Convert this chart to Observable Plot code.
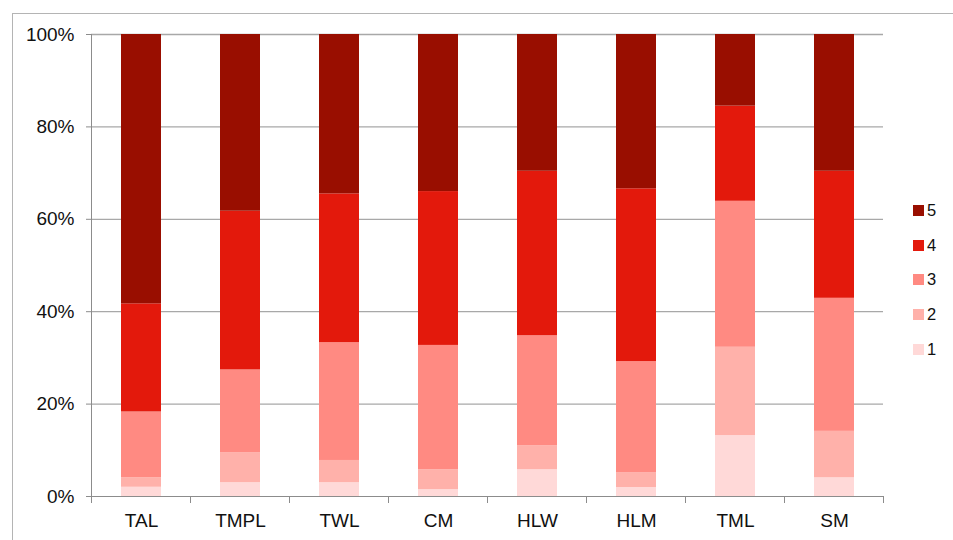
<!DOCTYPE html>
<html>
<head>
<meta charset="utf-8">
<script src="https://cdn.jsdelivr.net/npm/d3@7"></script>
<script src="https://cdn.jsdelivr.net/npm/@observablehq/plot@0.6"></script>
<style>
  html, body { margin: 0; padding: 0; background: #fff; overflow: hidden; }
  body { width: 953px; height: 540px; position: relative; font-family: "Liberation Sans", Arial, sans-serif; }
  #frame { position: absolute; left: 12px; top: 13px; width: 1000px; height: 600px; border: 1px solid #b4b4b4; box-sizing: border-box; }
  #chart { position: absolute; left: 0; top: 0; }
  #legend { position: absolute; left: 913px; top: 193px; }
  .item { display: flex; align-items: center; height: 34.7px; font-size: 16.5px; color: #111; }
  .sw { width: 11px; height: 11px; margin-right: 3px; }
</style>
</head>
<body>
<div id="frame"></div>
<div id="chart"></div>
<div id="legend"></div>
<script>
// Groups along the x axis
const categories = ["TAL", "TMPL", "TWL", "CM", "HLW", "HLM", "TML", "SM"];
// Rating levels, bottom to top of each stack
const levels = ["1", "2", "3", "4", "5"];
const colors = ["#ffd9d8", "#ffb1aa", "#ff8a82", "#e3190c", "#990e00"];
// Share of responses (%) per level, one value per category
const level1 = [2.0, 3.0, 3.0, 1.5, 5.8, 1.95, 13.2, 4.05];
const level2 = [2.05, 6.5, 4.8, 4.3, 5.2, 3.15, 19.1, 10.05];
const level3 = [14.25, 17.9, 25.5, 26.9, 23.8, 24.1, 31.6, 28.8];
const level4 = [23.4, 34.35, 32.2, 33.3, 35.6, 37.4, 20.6, 27.5];
const level5 = [58.3, 38.25, 34.5, 34.0, 29.6, 33.4, 15.5, 29.6];
const yTicks = [0, 20, 40, 60, 80, 100];

const series = [level1, level2, level3, level4, level5];
const data = [];
levels.forEach((lv, i) => categories.forEach((c, j) => data.push({cat: c, level: lv, value: series[i][j]})));

// Axis lines and the tick marks between categories
function axisLines(index, scales, channels, dims) {
  const left = dims.marginLeft, right = dims.width - dims.marginRight;
  const y0 = scales.y(0), y100 = scales.y(100);
  const step = (right - left) / categories.length;
  const g = d3.create("svg:g").attr("stroke", "#8c8c8c").attr("stroke-width", 1);
  g.append("line").attr("x1", left + 0.5).attr("x2", left + 0.5).attr("y1", y100).attr("y2", y0 + 7);
  g.append("line").attr("x1", left).attr("x2", right).attr("y1", y0 + 0.5).attr("y2", y0 + 0.5);
  for (let i = 1; i <= categories.length; i++) {
    const xx = Math.round(left + i * step) + 0.5;
    g.append("line").attr("x1", xx).attr("x2", xx).attr("y1", y0).attr("y2", y0 + 7);
  }
  return g.node();
}

const chart = Plot.plot({
  width: 953,
  height: 540,
  marginLeft: 91,
  marginRight: 70,
  marginTop: 34,
  marginBottom: 44,
  style: {fontFamily: "'Liberation Sans', Arial, sans-serif", fontSize: "19px", color: "#111", background: "transparent"},
  x: {domain: categories, paddingInner: 0.6, paddingOuter: 0.3, label: null},
  y: {domain: [0, 100], label: null},
  color: {domain: levels, range: colors},
  marks: [
    Plot.ruleY(yTicks.filter(d => d > 0), {stroke: "#a8a8a8", strokeWidth: 1.3}),
    Plot.barY(data, {x: "cat", y: "value", fill: "level", order: levels}),
    axisLines,
    Plot.axisY(yTicks, {tickFormat: d => d + "%", tickSize: 5, tickPadding: 12, stroke: "#8c8c8c", fontSize: 19, fill: "#111"}),
    Plot.axisX({tickSize: 0, tickPadding: 17, fontSize: 19, fill: "#111"})
  ]
});
document.getElementById("chart").appendChild(chart);

// Legend, top item is the highest level
const legend = document.getElementById("legend");
levels.slice().reverse().forEach(lv => {
  const item = document.createElement("div");
  item.className = "item";
  const sw = document.createElement("span");
  sw.className = "sw";
  sw.style.background = colors[levels.indexOf(lv)];
  const t = document.createElement("span");
  t.textContent = lv;
  item.appendChild(sw);
  item.appendChild(t);
  legend.appendChild(item);
});
</script>
</body>
</html>
